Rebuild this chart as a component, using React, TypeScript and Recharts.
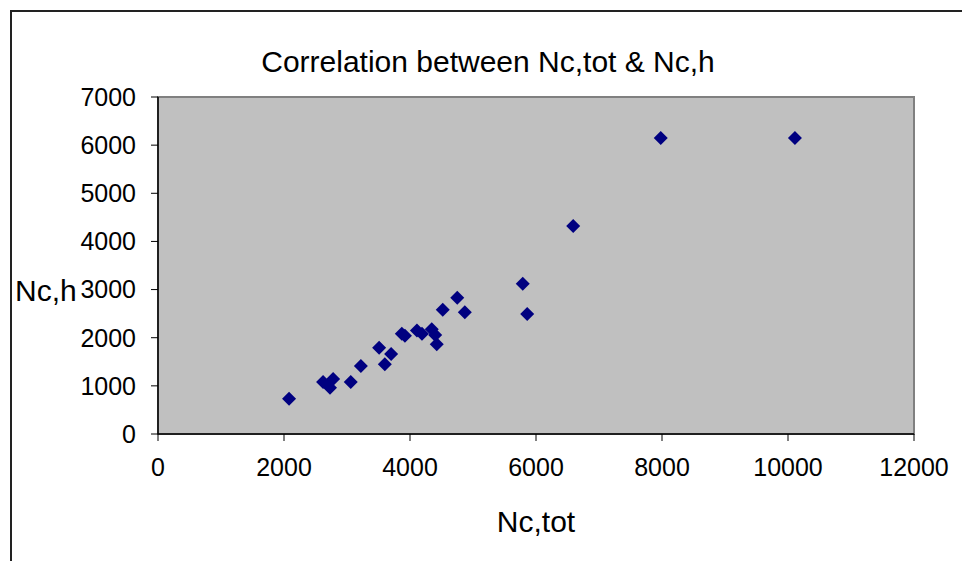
import { ScatterChart, Scatter, XAxis, YAxis, ReferenceArea, Label } from "recharts";

// Nc,tot (x) and Nc,h (y)
const ncTot = [
  2080, 2620, 2780, 2730, 3060, 3220, 3510, 3600, 3700, 3870, 3920, 4110, 4190, 4345, 4400, 4425,
  4520, 4750, 4870, 5790, 5860, 6590, 7980, 10110,
];
const ncH = [
  730, 1080, 1140, 960, 1080, 1410, 1790, 1450, 1660, 2080, 2040, 2150, 2080, 2175, 2055, 1865,
  2580, 2830, 2530, 3120, 2490, 4320, 6150, 6150,
];
const xTicks = [0, 2000, 4000, 6000, 8000, 10000, 12000];
const yTicks = [0, 1000, 2000, 3000, 4000, 5000, 6000, 7000];

const points = ncTot.map((x, i) => ({ x, y: ncH[i] }));

const FONT = "'Liberation Sans', Arial, sans-serif";
const TICK = { fill: "#000", fontSize: 25, fontFamily: FONT } as const;

function Diamond(props: any) {
  const { cx, cy } = props;
  const r = 7;
  return <polygon points={`${cx},${cy - r} ${cx + r},${cy} ${cx},${cy + r} ${cx - r},${cy}`} fill="#000080" />;
}

export default function App() {
  return (
    <div style={{ position: "absolute", left: 0, top: 0, width: 962, height: 561, background: "#fff", fontFamily: FONT }}>
      <div
        style={{
          position: "absolute",
          left: 10,
          top: 10,
          width: 960,
          height: 560,
          borderTop: "2px solid #222",
          borderLeft: "2px solid #222",
        }}
      />
      <div
        style={{
          position: "absolute",
          left: 0,
          width: 976,
          top: 44,
          textAlign: "center",
          fontSize: 30,
          lineHeight: "36px",
          color: "#000",
        }}
      >
        Correlation between Nc,tot &amp; Nc,h
      </div>
      <div style={{ position: "absolute", left: 0, top: 0 }}>
        <ScatterChart width={962} height={561} margin={{ top: 97, right: 48, bottom: 0, left: 0 }}>
          <ReferenceArea
            x1={0}
            x2={12000}
            y1={0}
            y2={7000}
            fill="#c0c0c0"
            fillOpacity={1}
            stroke="#808080"
            strokeWidth={2}
            ifOverflow="visible"
          />
          <XAxis
            type="number"
            dataKey="x"
            domain={[0, 12000]}
            ticks={xTicks}
            interval={0}
            height={127}
            tickSize={7}
            tickMargin={17}
            tick={TICK}
            axisLine={{ stroke: "#000", strokeWidth: 1.5 }}
            tickLine={{ stroke: "#000" }}
          >
            <Label
              content={(p: any) => {
                const vb = p.viewBox;
                return (
                  <text x={vb.x + vb.width / 2} y={vb.y + 98} textAnchor="middle" fontSize={30} fontFamily={FONT} fill="#000">
                    Nc,tot
                  </text>
                );
              }}
            />
          </XAxis>
          <YAxis
            type="number"
            dataKey="y"
            domain={[0, 7000]}
            ticks={yTicks}
            interval={0}
            width={158}
            tickSize={7}
            tickMargin={15}
            tick={TICK}
            axisLine={{ stroke: "#000", strokeWidth: 1.5 }}
            tickLine={{ stroke: "#000" }}
          >
            <Label
              content={(p: any) => {
                const vb = p.viewBox;
                return (
                  <text x={15} y={vb.y + vb.height / 2 + 35} textAnchor="start" fontSize={30} fontFamily={FONT} fill="#000">
                    Nc,h
                  </text>
                );
              }}
            />
          </YAxis>
          <Scatter data={points} shape={Diamond} isAnimationActive={false} />
        </ScatterChart>
      </div>
    </div>
  );
}
